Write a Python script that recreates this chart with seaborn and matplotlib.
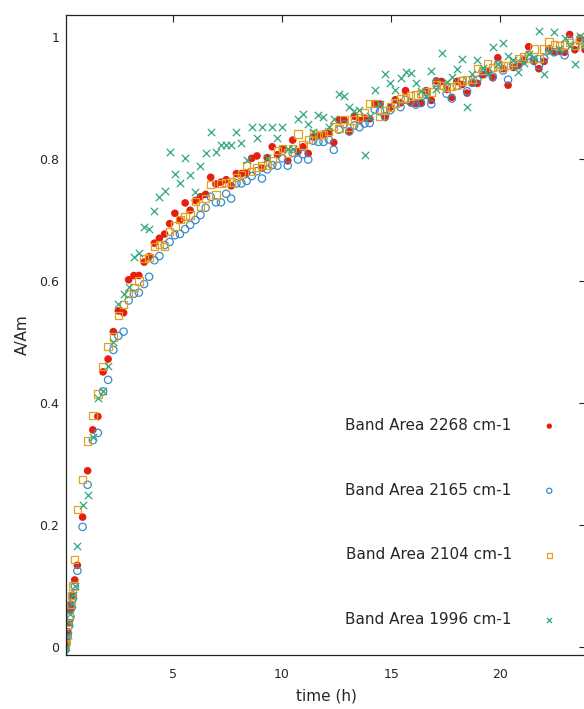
import pandas as pd
import seaborn as sns
import matplotlib
matplotlib.use("Agg")
import matplotlib.pyplot as plt

# sampling times (h)
time_h = [0.06, 0.12, 0.18, 0.24, 0.30, 0.36, 0.42, 0.50,
          0.62, 0.86, 1.09, 1.33, 1.56, 1.80, 2.03, 2.27, 2.50, 2.74,
          2.97, 3.21, 3.44, 3.68, 3.91, 4.15, 4.38, 4.62, 4.85, 5.09,
          5.32, 5.56, 5.79, 6.03, 6.26, 6.50, 6.73, 6.97, 7.20, 7.44,
          7.67, 7.91, 8.14, 8.38, 8.61, 8.85, 9.08, 9.32, 9.55, 9.79,
          10.02, 10.26, 10.49, 10.73, 10.96, 11.20, 11.43, 11.67, 11.90, 12.14,
          12.37, 12.61, 12.84, 13.08, 13.31, 13.55, 13.78, 14.02, 14.25, 14.49,
          14.72, 14.96, 15.19, 15.43, 15.66, 15.90, 16.13, 16.37, 16.60, 16.84,
          17.07, 17.31, 17.54, 17.78, 18.01, 18.25, 18.48, 18.72, 18.95, 19.19,
          19.42, 19.66, 19.89, 20.13, 20.36, 20.60, 20.83, 21.07, 21.30, 21.54,
          21.77, 22.01, 22.24, 22.48, 22.71, 22.95, 23.18, 23.42, 23.65, 23.89]

band_2268 = [0.00, 0.01, 0.025, 0.04, 0.06, 0.07, 0.085, 0.11,
             0.134, 0.213, 0.289, 0.356, 0.378, 0.451, 0.472, 0.517, 0.551, 0.548,
             0.602, 0.609, 0.609, 0.631, 0.640, 0.662, 0.670, 0.677, 0.694, 0.711,
             0.700, 0.728, 0.716, 0.732, 0.738, 0.742, 0.770, 0.759, 0.762, 0.766,
             0.756, 0.776, 0.776, 0.777, 0.801, 0.805, 0.785, 0.802, 0.820, 0.807,
             0.816, 0.797, 0.831, 0.812, 0.820, 0.809, 0.836, 0.839, 0.841, 0.842,
             0.827, 0.864, 0.864, 0.845, 0.870, 0.863, 0.867, 0.866, 0.890, 0.890,
             0.868, 0.885, 0.897, 0.892, 0.912, 0.892, 0.891, 0.891, 0.912, 0.896,
             0.928, 0.927, 0.914, 0.901, 0.927, 0.922, 0.908, 0.924, 0.924, 0.938,
             0.944, 0.933, 0.966, 0.948, 0.921, 0.950, 0.953, 0.961, 0.984, 0.960,
             0.948, 0.960, 0.981, 0.976, 0.977, 0.975, 1.004, 0.979, 0.998, 0.979]

band_2165 = [-0.005, 0.005, 0.02, 0.035, 0.05, 0.065, 0.08, 0.10,
             0.125, 0.197, 0.266, 0.339, 0.351, 0.419, 0.438, 0.487, 0.510, 0.517,
             0.568, 0.579, 0.581, 0.595, 0.607, 0.634, 0.641, 0.659, 0.664, 0.675,
             0.677, 0.685, 0.692, 0.700, 0.708, 0.720, 0.738, 0.729, 0.729, 0.743,
             0.735, 0.760, 0.760, 0.764, 0.772, 0.780, 0.768, 0.783, 0.790, 0.789,
             0.801, 0.789, 0.810, 0.799, 0.808, 0.799, 0.830, 0.828, 0.828, 0.832,
             0.815, 0.848, 0.857, 0.845, 0.855, 0.852, 0.858, 0.859, 0.881, 0.878,
             0.870, 0.880, 0.890, 0.885, 0.897, 0.893, 0.889, 0.892, 0.905, 0.890,
             0.925, 0.920, 0.907, 0.899, 0.920, 0.928, 0.911, 0.925, 0.930, 0.943,
             0.943, 0.935, 0.955, 0.945, 0.930, 0.954, 0.955, 0.962, 0.970, 0.962,
             0.953, 0.965, 0.978, 0.975, 0.977, 0.970, 0.995, 0.985, 0.995, 0.985]

band_2104 = [0.005, 0.015, 0.035, 0.05, 0.07, 0.085, 0.10, 0.144,
             0.226, 0.275, 0.338, 0.380, 0.415, 0.460, 0.493, 0.508, 0.543, 0.561,
             0.579, 0.589, 0.600, 0.637, 0.639, 0.657, 0.660, 0.657, 0.681, 0.690,
             0.701, 0.706, 0.708, 0.730, 0.723, 0.735, 0.758, 0.741, 0.760, 0.761,
             0.762, 0.770, 0.775, 0.789, 0.780, 0.786, 0.789, 0.790, 0.797, 0.814,
             0.817, 0.810, 0.817, 0.841, 0.823, 0.832, 0.842, 0.838, 0.840, 0.845,
             0.853, 0.850, 0.865, 0.852, 0.864, 0.868, 0.876, 0.891, 0.891, 0.870,
             0.880, 0.885, 0.892, 0.899, 0.900, 0.903, 0.905, 0.907, 0.911, 0.910,
             0.922, 0.920, 0.917, 0.919, 0.920, 0.928, 0.930, 0.930, 0.948, 0.945,
             0.957, 0.950, 0.952, 0.953, 0.953, 0.958, 0.965, 0.968, 0.965, 0.980,
             0.965, 0.980, 0.992, 0.987, 0.985, 0.987, 0.991, 0.986, 0.995, 0.990]

band_1996 = [-0.01, 0.0, 0.02, 0.04, 0.055, 0.07, 0.085, 0.10,
             0.166, 0.233, 0.250, 0.345, 0.409, 0.419, 0.461, 0.500, 0.562, 0.579,
             0.590, 0.639, 0.646, 0.689, 0.686, 0.715, 0.737, 0.747, 0.812, 0.776,
             0.760, 0.802, 0.774, 0.746, 0.789, 0.809, 0.845, 0.812, 0.823, 0.823,
             0.823, 0.845, 0.826, 0.799, 0.853, 0.834, 0.852, 0.802, 0.852, 0.834,
             0.852, 0.817, 0.817, 0.866, 0.873, 0.857, 0.845, 0.872, 0.868, 0.853,
             0.865, 0.907, 0.903, 0.886, 0.878, 0.880, 0.807, 0.870, 0.913, 0.890,
             0.939, 0.925, 0.913, 0.932, 0.943, 0.941, 0.925, 0.911, 0.903, 0.945,
             0.915, 0.974, 0.927, 0.935, 0.947, 0.964, 0.885, 0.940, 0.962, 0.949,
             0.940, 0.984, 0.955, 0.990, 0.968, 0.962, 0.943, 0.958, 0.972, 0.965,
             1.010, 0.940, 0.975, 1.008, 0.980, 0.998, 0.985, 0.955, 1.002, 0.990]

labels = ["Band Area 2268 cm-1", "Band Area 2165 cm-1",
          "Band Area 2104 cm-1", "Band Area 1996 cm-1"]
series = [band_2268, band_2165, band_2104, band_1996]

# marker style per series (gnuplot-like)
styles = [
    dict(marker="o", color="#e51e10", edgecolor="none", s=30),
    dict(marker="o", facecolor="none", edgecolor="#3a8cc8", linewidth=0.9, s=28),
    dict(marker="s", facecolor="none", edgecolor="#e6a020", linewidth=0.9, s=28),
    dict(marker="x", color="#2fa884", linewidth=0.9, s=28),
]

sns.set_theme(style="white")
plt.rcParams["font.family"] = ["DejaVu Sans"]

fig = plt.figure(figsize=(5.84, 7.09), dpi=100)
ax = fig.add_axes([66 / 584, 54 / 709, 520 / 584, 640 / 709])

for lab, vals, st in zip(labels, series, styles):
    df = pd.DataFrame({"time": time_h, "A": vals})
    sns.scatterplot(data=df, x="time", y="A", ax=ax, label=lab, **st)

ax.set_xlim(0.1, 23.93)
ax.set_ylim(-0.013, 1.036)
ax.set_xticks([5, 10, 15, 20])
ax.set_yticks([0, 0.2, 0.4, 0.6, 0.8, 1])
ax.set_yticklabels(["0", "0.2", "0.4", "0.6", "0.8", "1"])

for sp in ax.spines.values():
    sp.set_color("#222222")
    sp.set_linewidth(0.9)
ax.tick_params(direction="in", length=5, width=0.8, color="#222222",
               top=True, right=True, labelsize=9)
ax.tick_params(axis="x", pad=9)
ax.tick_params(axis="y", pad=5)

ax.set_xlabel("time (h)", fontsize=11)
ax.set_ylabel("A/Am", fontsize=11)
ax.yaxis.set_label_coords(-0.069, 0.5)
ax.xaxis.set_label_coords(0.5, -0.053)

ax.legend(loc="upper right", bbox_to_anchor=(0.9735, 0.382), frameon=False,
          markerfirst=False, fontsize=11, labelspacing=3.25,
          handletextpad=1.46, borderpad=0, markerscale=0.7)

fig.savefig("out.png", dpi=100)
